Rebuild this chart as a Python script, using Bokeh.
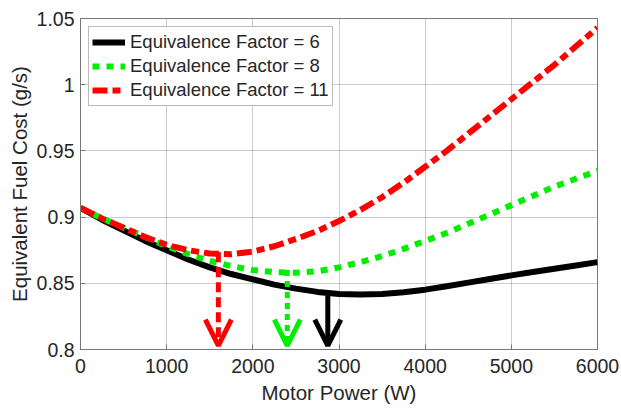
from bokeh.plotting import figure
from bokeh.models import (ColumnDataSource, FixedTicker, Arrow, OpenHead,
                          Legend, LegendItem)
from bokeh.embed import file_html
from bokeh.resources import INLINE

# Motor power samples (W)
power = [0, 250, 500, 750, 1000, 1250, 1500, 1750, 2000, 2250, 2500, 2750, 3000,
         3250, 3500, 3750, 4000, 4250, 4500, 4750, 5000, 5250, 5500, 5750, 6000]

# Equivalent fuel cost (g/s) for each equivalence factor
cost_ef6 = [0.907, 0.898, 0.890, 0.882, 0.875, 0.868, 0.862, 0.857, 0.853, 0.849,
            0.846, 0.8435, 0.842, 0.8415, 0.842, 0.8433, 0.8452, 0.8478, 0.8505,
            0.8532, 0.856, 0.8585, 0.861, 0.8635, 0.866]
cost_ef8 = [0.907, 0.899, 0.892, 0.885, 0.878, 0.872, 0.867, 0.863, 0.860, 0.8585,
            0.858, 0.859, 0.862, 0.866, 0.8705, 0.876, 0.882, 0.888, 0.895, 0.902,
            0.909, 0.916, 0.923, 0.929, 0.935]
cost_ef11 = [0.907, 0.899, 0.892, 0.885, 0.879, 0.875, 0.8725, 0.872, 0.874, 0.878,
             0.8835, 0.8895, 0.897, 0.9055, 0.915, 0.926, 0.938, 0.950, 0.963, 0.976,
             0.989, 1.002, 1.015, 1.029, 1.043]

# Optimal motor power markers (arrow x, arrow start y, arrow tip y)
opt_power = [2870, 2400, 1600]
opt_start = [0.8408, 0.8600, 0.8735]
opt_tip = [0.803, 0.803, 0.803]

series_labels = ["Equivalence Factor = 6", "Equivalence Factor = 8",
                 "Equivalence Factor = 11"]
x_ticks = [0, 1000, 2000, 3000, 4000, 5000, 6000]
y_ticks = [0.8, 0.85, 0.9, 0.95, 1.0, 1.05]
y_tick_labels = ["0.8", "0.85", "0.9", "0.95", "1", "1.05"]

FONT = "Liberation Sans"
TEXT = "#262626"

p = figure(width=621, height=410, output_backend="svg", toolbar_location=None,
           x_range=(0, 6000), y_range=(0.8, 1.05),
           min_border_left=80, min_border_right=24,
           min_border_top=18, min_border_bottom=61)
p.background_fill_color = "white"
p.border_fill_color = "white"
p.outline_line_color = "#777777"
p.outline_line_width = 1

styles = [
    dict(color="#000000", line_dash="solid"),
    dict(color="#00ee00", line_dash="7 7"),
    dict(color="#ff0000", line_dash="15 5 8 5"),
]
series = [cost_ef6, cost_ef8, cost_ef11]
renderers = []
for vals, st in zip(series, styles):
    src = ColumnDataSource(dict(x=power, y=vals))
    r = p.line("x", "y", source=src, line_width=6, line_color=st["color"],
               line_dash=st["line_dash"], line_join="round")
    renderers.append(r)

# Arrows marking the minimum of each curve
shaft_dash = ["solid", "6 5", "10 5"]
for i, st in enumerate(styles):
    p.add_layout(Arrow(
        x_start=opt_power[i], y_start=opt_start[i],
        x_end=opt_power[i], y_end=opt_tip[i],
        line_color=st["color"], line_width=5, line_dash=shaft_dash[i],
        end=OpenHead(size=26, line_color=st["color"], line_width=5),
    ))

# Axes
p.xaxis.ticker = FixedTicker(ticks=x_ticks)
p.yaxis.ticker = FixedTicker(ticks=y_ticks)
p.yaxis.major_label_overrides = {t: s for t, s in zip(y_ticks, y_tick_labels)}
for ax in (p.xaxis[0], p.yaxis[0]):
    ax.axis_line_color = "#777777"
    ax.major_tick_line_color = "#777777"
    ax.major_tick_in = 5
    ax.major_tick_out = 0
    ax.minor_tick_line_color = None
    ax.major_label_text_font = FONT
    ax.major_label_text_font_size = "19.5px"
    ax.major_label_text_color = TEXT
    ax.axis_label_text_font = FONT
    ax.axis_label_text_font_size = "20.5px"
    ax.axis_label_text_font_style = "normal"
    ax.axis_label_text_color = TEXT
p.xaxis.axis_label = "Motor Power (W)"
p.yaxis.axis_label = "Equivalent Fuel Cost (g/s)"
p.xaxis.major_label_standoff = 9
p.yaxis.major_label_standoff = 6
p.xaxis.axis_label_standoff = 5
p.yaxis.axis_label_standoff = 3

p.grid.grid_line_color = "#000000"
p.grid.grid_line_alpha = 0.2
p.grid.grid_line_width = 1

legend = Legend(items=[LegendItem(label=lab, renderers=[r])
                       for lab, r in zip(series_labels, renderers)],
                location="top_left", margin=8, padding=3, spacing=0,
                glyph_width=33, glyph_height=24, label_height=24,
                label_standoff=5,
                label_text_font=FONT, label_text_font_size="18.5px",
                label_text_color=TEXT,
                border_line_color="#777777", border_line_width=1,
                background_fill_color="white", background_fill_alpha=1)
p.add_layout(legend, "center")

open("out.html", "w").write(file_html(p, INLINE))
